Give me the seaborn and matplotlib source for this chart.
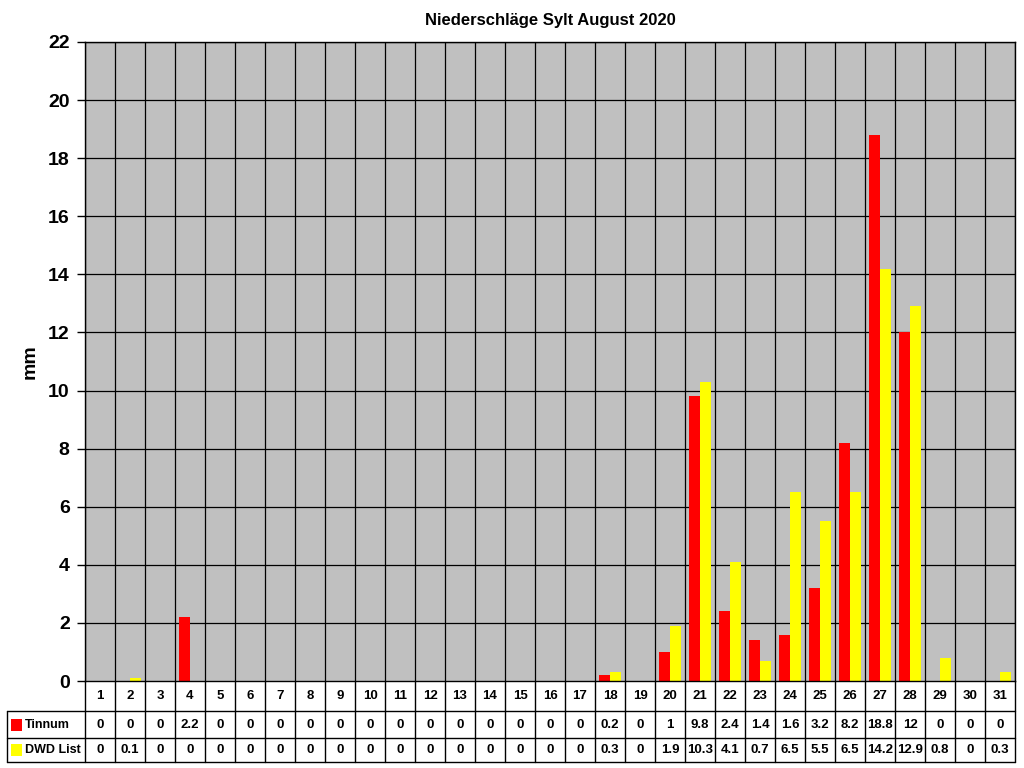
import numpy as np
import pandas as pd
import matplotlib
matplotlib.use('Agg')
import matplotlib.pyplot as plt
import matplotlib.transforms as mtransforms
from matplotlib.lines import Line2D
from matplotlib.patches import Rectangle
import seaborn as sns

# Data
days = [str(d) for d in range(1, 32)]
tinnum = [0, 0, 0, 2.2, 0, 0, 0, 0, 0, 0, 0, 0, 0, 0, 0, 0, 0, 0.2, 0, 1,
          9.8, 2.4, 1.4, 1.6, 3.2, 8.2, 18.8, 12, 0, 0, 0]
dwd_list = [0, 0.1, 0, 0, 0, 0, 0, 0, 0, 0, 0, 0, 0, 0, 0, 0, 0, 0.3, 0, 1.9,
            10.3, 4.1, 0.7, 6.5, 5.5, 6.5, 14.2, 12.9, 0.8, 0, 0.3]
series_names = ['Tinnum', 'DWD List']
series_colors = ['#FF0000', '#FFFF00']

df = pd.DataFrame({
    'Tag': days * 2,
    'mm': tinnum + dwd_list,
    'Station': [series_names[0]] * len(days) + [series_names[1]] * len(days),
})

sns.set_style('white')
plt.rcParams.update({
    'font.family': ['Liberation Sans', 'DejaVu Sans'],
    'text.color': 'black',
    'axes.labelcolor': 'black',
    'ytick.color': 'black',
    'ytick.left': True,
    'ytick.major.size': 6,
    'ytick.major.width': 1,
})

fig = plt.figure(figsize=(10.24, 7.68), dpi=100)
ax = fig.add_axes([85 / 1024, 1 - 681 / 768, 930 / 1024, 639 / 768])
ax.set_facecolor('#C0C0C0')

sns.barplot(data=df, x='Tag', y='mm', hue='Station', order=days,
            hue_order=series_names, palette=series_colors, width=0.75,
            edgecolor='none', linewidth=0, saturation=1, ax=ax, legend=False)

ax.set_xlim(-0.5, len(days) - 0.5)
ax.set_ylim(0, 22)
ax.set_yticks(np.arange(0, 23, 2))
ax.tick_params(axis='y', labelsize=14, length=6, width=1, direction='out',
               left=True, color='black', labelcolor='black', pad=5)
for lbl in ax.get_yticklabels():
    lbl.set_fontweight('bold')
ax.set_xticks([])
ax.set_xlabel('')
ax.set_ylabel('mm', fontsize=14, fontweight='bold', labelpad=7, color='black')
ax.set_title('Niederschläge Sylt August 2020', fontsize=12, fontweight='bold',
             pad=12, color='black')

# grid: horizontal every 2 mm, vertical between days
for y in np.arange(2, 23, 2):
    ax.axhline(y, color='black', lw=0.9, zorder=0)
for i in range(len(days) + 1):
    ax.axvline(i - 0.5, color='black', lw=0.9, zorder=0)
for s in ax.spines.values():
    s.set_color('black')
    s.set_linewidth(1)

# data table below the chart
trans = mtransforms.blended_transform_factory(ax.transData, ax.transAxes)
row_y = [0, -30 / 639, -57 / 639, -81 / 639]
left_fig = 7 / 1024
ftrans = fig.transFigure

def fig_y(ay):
    return 1 - (681 - ay * 639) / 768

for i in range(len(days) + 1):
    ax.add_line(Line2D([i - 0.5, i - 0.5], [row_y[0], row_y[3]], transform=trans,
                       color='black', lw=1, clip_on=False))
for yy in row_y[1:]:
    fig.add_artist(Line2D([left_fig, 1015 / 1024], [fig_y(yy), fig_y(yy)],
                          transform=ftrans, color='black', lw=1))
fig.add_artist(Line2D([left_fig, left_fig], [fig_y(row_y[1]), fig_y(row_y[3])],
                      transform=ftrans, color='black', lw=1))

for i, d in enumerate(days):
    ax.text(i, (row_y[0] + row_y[1]) / 2, d, transform=trans, ha='center', va='center',
            fontsize=9.5, fontweight='bold', color='black')
    ax.text(i, (row_y[1] + row_y[2]) / 2, f'{tinnum[i]:g}', transform=trans, ha='center',
            va='center', fontsize=9.5, fontweight='bold', color='black')
    ax.text(i, (row_y[2] + row_y[3]) / 2, f'{dwd_list[i]:g}', transform=trans, ha='center',
            va='center', fontsize=9.5, fontweight='bold', color='black')

for r, (name, col) in enumerate(zip(series_names, series_colors)):
    yc = fig_y((row_y[r + 1] + row_y[r + 2]) / 2)
    fig.add_artist(Rectangle((11 / 1024, yc - 6 / 768), 11 / 1024, 12 / 768,
                             transform=ftrans, facecolor=col, edgecolor='none'))
    fig.text(25 / 1024, yc, name, ha='left', va='center', fontsize=9,
             fontweight='bold', color='black')

fig.savefig('out.png', dpi=100, facecolor='white')
